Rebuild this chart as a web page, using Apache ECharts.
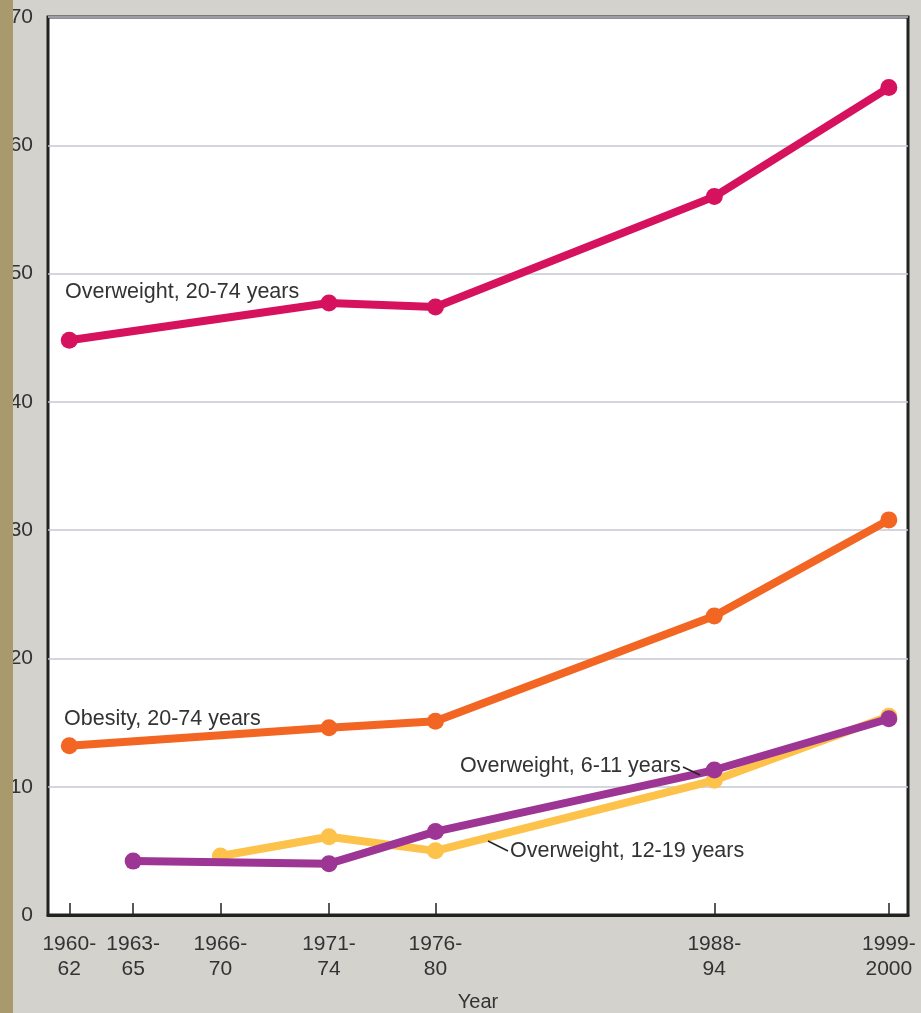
<!DOCTYPE html>
<html>
<head>
<meta charset="utf-8">
<script src="https://cdn.jsdelivr.net/npm/echarts@6/dist/echarts.min.js"></script>
<style>
html,body{margin:0;padding:0;background:#d4d2cd;}
#c{width:921px;height:1013px;}
</style>
</head>
<body>
<div id="c"></div>
<script>
// Period positions (in year units) and their labels
var periodX = [1961, 1964, 1968.1, 1973.2, 1978.2, 1991.3, 1999.5];
var periodLabels = ["1960-\n62", "1963-\n65", "1966-\n70", "1971-\n74", "1976-\n80", "1988-\n94", "1999-\n2000"];
var yTicks = [0, 10, 20, 30, 40, 50, 60, 70];

// Series values (percent)
var overweightAdultX = [1961, 1973.2, 1978.2, 1991.3, 1999.5];
var overweightAdult = [44.8, 47.7, 47.4, 56.0, 64.5];
var obesityAdultX = [1961, 1973.2, 1978.2, 1991.3, 1999.5];
var obesityAdult = [13.2, 14.6, 15.1, 23.3, 30.8];
var overweight1219X = [1968.1, 1973.2, 1978.2, 1991.3, 1999.5];
var overweight1219 = [4.6, 6.1, 5.0, 10.5, 15.5];
var overweight611X = [1964, 1973.2, 1978.2, 1991.3, 1999.5];
var overweight611 = [4.2, 4.0, 6.5, 11.3, 15.3];

function pairs(xs, ys){ return xs.map(function(x,i){ return [x, ys[i]]; }); }

var chart = echarts.init(document.getElementById('c'));
var font = 'Liberation Sans, Arial, sans-serif';
function lineSeries(name, xs, ys, color, z){
  return {
    name: name, type: 'line', data: pairs(xs, ys), z: z,
    symbol: 'circle', symbolSize: 17, showSymbol: true,
    lineStyle: {color: color, width: 8},
    itemStyle: {color: color},
    animation: false
  };
}
var option = {
  backgroundColor: '#d4d2cd',
  animation: false,
  grid: {left: 48, right: 13, top: 17, bottom: 98, outerBoundsMode: 'none', containLabel: false, show: true, backgroundColor: '#ffffff', borderColor: '#222', borderWidth: 3},
  xAxis: {
    type: 'value', min: 1960, max: 2000.4,
    name: 'Year', nameLocation: 'middle', nameGap: 77,
    nameTextStyle: {fontFamily: font, fontSize: 20, color: '#333'},
    axisLine: {show: true, onZero: false, lineStyle: {color: '#222', width: 3}},
    axisTick: {show: true, inside: true, length: 12, customValues: periodX, lineStyle: {color: '#222', width: 1.5}},
    axisLabel: {
      customValues: periodX, margin: 17,
      fontFamily: font, fontSize: 21, color: '#333', lineHeight: 25,
      formatter: function(v){ var i = periodX.indexOf(v); return i >= 0 ? periodLabels[i] : ''; }
    },
    splitLine: {show: false}
  },
  yAxis: {
    type: 'value', min: 0, max: 70, interval: 10,
    axisLine: {show: false},
    axisTick: {show: false},
    axisLabel: {margin: 15, fontFamily: font, fontSize: 21, color: '#333',
      formatter: function(v){ return yTicks.indexOf(v) >= 0 ? String(v) : ''; }},
    splitLine: {show: true, lineStyle: {color: '#c4c9d2', width: 1.5}}
  },
  series: [
    lineSeries('Overweight, 20-74 years', overweightAdultX, overweightAdult, '#d6115e', 4),
    lineSeries('Obesity, 20-74 years', obesityAdultX, obesityAdult, '#f26522', 4),
    lineSeries('Overweight, 12-19 years', overweight1219X, overweight1219, '#fdc24a', 3),
    lineSeries('Overweight, 6-11 years', overweight611X, overweight611, '#9c3594', 5)
  ],
  graphic: [
    {type: 'rect', left: 0, top: 0, shape: {width: 13, height: 1013}, style: {fill: '#a99a6e'}, z: 100},
    {type: 'text', left: 65, top: 281, style: {text: 'Overweight, 20-74 years', font: '21.5px ' + font, fill: '#333'}, z: 50},
    {type: 'text', left: 64, top: 708, style: {text: 'Obesity, 20-74 years', font: '21.5px ' + font, fill: '#333'}, z: 50},
    {type: 'text', left: 460, top: 755, style: {text: 'Overweight, 6-11 years', font: '21.5px ' + font, fill: '#333'}, z: 50},
    {type: 'line', shape: {x1: 683, y1: 767, x2: 700, y2: 775}, style: {stroke: '#222', lineWidth: 1.5}, z: 50},
    {type: 'text', left: 510, top: 840, style: {text: 'Overweight, 12-19 years', font: '21.5px ' + font, fill: '#333'}, z: 50},
    {type: 'line', shape: {x1: 488, y1: 841, x2: 508, y2: 851}, style: {stroke: '#222', lineWidth: 1.5}, z: 50}
  ]
};
chart.setOption(option);
</script>
</body>
</html>
